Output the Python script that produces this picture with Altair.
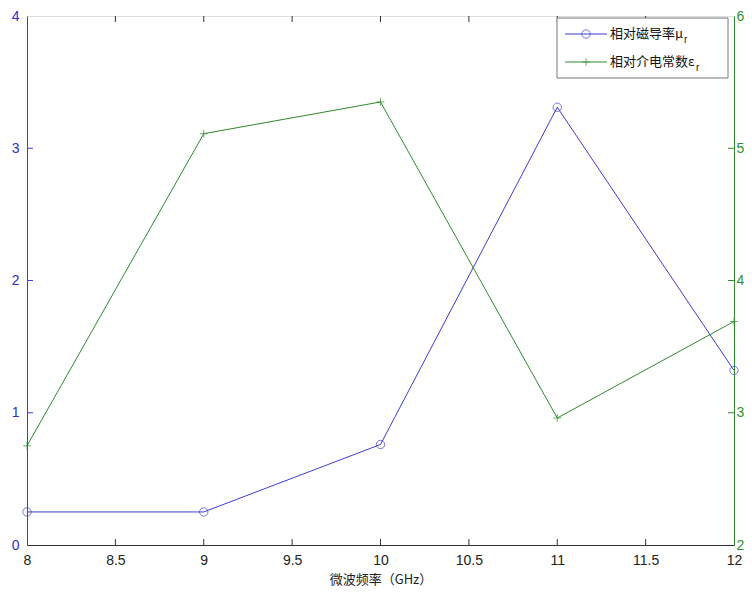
import altair as alt
import pandas as pd

freq = [8, 9, 10, 11, 12]
mu_r = [0.25, 0.25, 0.76, 3.31, 1.32]
eps_r = [2.75, 5.11, 5.35, 2.96, 3.69]

x_ticks = [8, 8.5, 9, 9.5, 10, 10.5, 11, 11.5, 12]
left_ticks = [0, 1, 2, 3, 4]
right_ticks = [2, 3, 4, 5, 6]

x_title = "微波频率（GHz）"
mu_label = "相对磁导率μ"
eps_label = "相对介电常数ε"

W, H = 707, 529
BLUE = "#3c3cd2"
GREEN = "#2e8b2e"
BLUE_TXT = "#3030c8"
GREEN_TXT = "#2f942f"
NUM_FONT = "Liberation Sans"
CJK_FONT = "Noto Sans CJK SC"

df = pd.DataFrame({"f": freq, "mu": mu_r, "eps": eps_r})
xt = pd.DataFrame({"x": x_ticks[1:-1]})
lt = pd.DataFrame({"v": left_ticks[1:-1]})
rt = pd.DataFrame({"v": right_ticks[1:-1]})
one = alt.Data(values=[{}])

xscale = alt.Scale(domain=[8, 12], nice=False, zero=False)
lscale = alt.Scale(domain=[0, 4], nice=False, zero=False)
rscale = alt.Scale(domain=[2, 6], nice=False, zero=False)

x_axis = alt.Axis(values=x_ticks, format="~g", ticks=False, labelFlush=False, labelPadding=8,
                  labelFontSize=14, labelFont=NUM_FONT, labelColor="#222222",
                  domainColor="#333333", grid=False, title=x_title, orient="bottom",
                  titleFont=CJK_FONT, titleFontSize=13, titleFontWeight="normal",
                  titleColor="#222222", titlePadding=6)

left_axis = alt.Axis(values=left_ticks, format="~g", ticks=False, labelPadding=8, labelFontSize=14,
                     labelFont=NUM_FONT, labelColor=BLUE_TXT, domainColor=BLUE,
                     grid=False, title=None, orient="left", labelFlush=False)
right_axis = alt.Axis(values=right_ticks, format="~g", ticks=False, labelPadding=2, labelFontSize=14,
                      labelFont=NUM_FONT, labelColor=GREEN_TXT, domainColor=GREEN,
                      grid=False, title=None, orient="right", labelFlush=False)

X = alt.X("f:Q", scale=xscale, axis=x_axis)
base = alt.Chart(df)

blue_line = base.mark_line(color=BLUE, strokeWidth=1).encode(
    x=X, y=alt.Y("mu:Q", scale=lscale, axis=left_axis))
blue_pts = base.mark_point(shape="circle", filled=False, color=BLUE, size=70, strokeWidth=1).encode(
    x=X, y=alt.Y("mu:Q", scale=lscale, axis=None))
green_line = base.mark_line(color=GREEN, strokeWidth=1).encode(
    x=X, y=alt.Y("eps:Q", scale=rscale, axis=right_axis))
plus = "M-1,0L1,0M0,-1L0,1"
green_pts = base.mark_point(shape=plus, filled=False, color=GREEN, size=60, strokeWidth=1).encode(
    x=X, y=alt.Y("eps:Q", scale=rscale, axis=None))

TL = 6
XT = alt.X("x:Q", scale=xscale, axis=x_axis)
top_ticks = alt.Chart(xt).mark_rule(color="#333333", strokeWidth=1).encode(
    x=XT, y=alt.value(0), y2=alt.value(TL))
bot_ticks = alt.Chart(xt).mark_rule(color="#333333", strokeWidth=1).encode(
    x=XT, y=alt.value(H - TL), y2=alt.value(H))
l_ticks = alt.Chart(lt).mark_rule(color=BLUE, strokeWidth=1).encode(
    y=alt.Y("v:Q", scale=lscale, axis=None), x=alt.value(0), x2=alt.value(TL))
r_ticks = alt.Chart(rt).mark_rule(color=GREEN, strokeWidth=1).encode(
    y=alt.Y("v:Q", scale=rscale, axis=None), x=alt.value(W - TL), x2=alt.value(W))

# legend
LX0, LX1, LY0, LY1 = 530, 701, 2, 62
R1, R2 = 18, 46
leg_box = alt.Chart(one).mark_rect(fill="white", stroke="#777777", strokeWidth=1).encode(
    x=alt.value(LX0), x2=alt.value(LX1), y=alt.value(LY0), y2=alt.value(LY1))
leg_l1 = alt.Chart(one).mark_rule(color=BLUE, strokeWidth=1).encode(
    x=alt.value(538), x2=alt.value(580), y=alt.value(R1))
leg_p1 = alt.Chart(one).mark_point(shape="circle", filled=False, color=BLUE, size=70, strokeWidth=1).encode(
    x=alt.value(559), y=alt.value(R1))
leg_l2 = alt.Chart(one).mark_rule(color=GREEN, strokeWidth=1).encode(
    x=alt.value(538), x2=alt.value(580), y=alt.value(R2))
leg_p2 = alt.Chart(one).mark_point(shape=plus, filled=False, color=GREEN, size=60, strokeWidth=1).encode(
    x=alt.value(559), y=alt.value(R2))
leg_t1 = alt.Chart(one).mark_text(align="left", baseline="middle", font=CJK_FONT, fontSize=13,
                                  color="#111111", text=mu_label).encode(
    x=alt.value(583), y=alt.value(R1))
leg_s1 = alt.Chart(one).mark_text(align="left", baseline="middle", font=NUM_FONT, fontSize=10,
                                  color="#111111", text="r").encode(
    x=alt.value(657), y=alt.value(R1 + 6))
leg_t2 = alt.Chart(one).mark_text(align="left", baseline="middle", font=CJK_FONT, fontSize=13,
                                  color="#111111", text=eps_label).encode(
    x=alt.value(583), y=alt.value(R2))
leg_s2 = alt.Chart(one).mark_text(align="left", baseline="middle", font=NUM_FONT, fontSize=10,
                                  color="#111111", text="r").encode(
    x=alt.value(669), y=alt.value(R2 + 6))

chart = alt.layer(
    blue_line, green_line, top_ticks, bot_ticks, l_ticks, r_ticks,
    blue_pts, green_pts,
    leg_box, leg_l1, leg_p1, leg_l2, leg_p2, leg_t1, leg_s1, leg_t2, leg_s2,
).resolve_scale(y="independent").properties(
    width=W, height=H,
    autosize=alt.AutoSizeParams(type="none"),
    padding={"left": 19, "top": 8, "right": 10, "bottom": 41},
).configure_view(stroke="#222222", strokeWidth=1).configure(background="white")

chart.save("out.html", embed_options={"renderer": "svg", "actions": False})
